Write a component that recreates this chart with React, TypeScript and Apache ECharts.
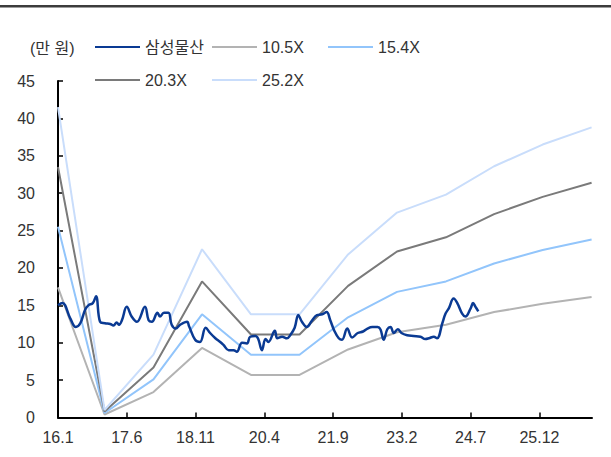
import React, { useEffect, useRef } from "react";
import * as echarts from "echarts";

// x values are months since 2016-01
const tickLabels = ["16.1", "17.6", "18.11", "20.4", "21.9", "23.2", "24.7", "25.12"];
const tickStep = 17;
const xMax = 132;

const bandMonths = [0, 11.5, 23.6, 35.6, 47.7, 59.7, 71.7, 83.8, 95.9, 107.8, 119.8, 131.9];
const per105 = [17.4, 0.4, 3.4, 9.3, 5.7, 5.7, 9.1, 11.4, 12.4, 14.1, 15.2, 16.1];
const per154 = [25.5, 0.6, 5.1, 13.8, 8.4, 8.4, 13.4, 16.8, 18.2, 20.6, 22.4, 23.8];
const per203 = [33.5, 0.8, 6.7, 18.2, 11.1, 11.1, 17.6, 22.2, 24.1, 27.2, 29.5, 31.4];
const per252 = [41.5, 1.0, 8.4, 22.5, 13.8, 13.8, 21.8, 27.4, 29.8, 33.6, 36.5, 38.8];

const samsungCT: [number, number][] = [
  [0, 15.0], [1.1, 15.3], [3.0, 13.3], [4.4, 12.1], [5.5, 12.6], [6.7, 14.4], [7.5, 15.0],
  [8.6, 15.3], [9.4, 16.2], [10.4, 12.8], [11.6, 12.6], [12.9, 12.5], [13.7, 12.3],
  [14.5, 12.7], [15.1, 12.4], [15.8, 13.0], [17.0, 14.8], [18.2, 13.5], [19.5, 12.8],
  [21.5, 14.8], [22.4, 13.0], [23.2, 12.8], [24.6, 14.0], [25.2, 13.5], [26.2, 14.0],
  [27.3, 14.0], [28.1, 12.4], [29.1, 11.9], [30.2, 12.4], [31.9, 12.8], [32.4, 12.2],
  [33.9, 10.4], [35.1, 10.1], [36.5, 12.0], [37.6, 11.3], [38.9, 10.6], [40.1, 10.1],
  [40.9, 9.7], [42.2, 9.0], [43.4, 9.0], [44.2, 8.8], [45.5, 10.0], [46.7, 9.9],
  [47.5, 10.8], [48.8, 10.9], [49.5, 10.5], [50.4, 9.0], [51.3, 10.5], [52.0, 10.1],
  [53.6, 11.6], [54.2, 10.6], [55.4, 10.8], [56.6, 10.6], [57.4, 11.0], [58.5, 12.0],
  [59.4, 13.7], [60.3, 12.8], [61.5, 12.1], [62.7, 12.9], [64.0, 13.7], [65.3, 13.8],
  [66.4, 14.1], [67.3, 13.0], [68.3, 11.6], [69.4, 10.6], [70.2, 10.4], [71.5, 11.9],
  [72.7, 10.7], [74.1, 11.3], [75.4, 11.5], [76.5, 11.9], [77.7, 12.1], [79.0, 12.1],
  [79.7, 11.8], [80.5, 10.4], [81.4, 11.8], [82.2, 12.1], [83.0, 11.3], [84.0, 11.8],
  [84.9, 11.3], [86.3, 11.0], [87.9, 10.9], [89.6, 10.8], [90.8, 10.5], [91.7, 10.6],
  [92.9, 10.8], [93.7, 10.6], [95.0, 12.6], [95.8, 13.9], [96.6, 14.6], [97.8, 15.9],
  [98.7, 15.3], [99.9, 13.9], [100.7, 13.5], [102.0, 14.6], [102.6, 15.3], [103.2, 14.8],
  [103.9, 14.2],
];

const FONT = '"Liberation Sans", Arial, "Noto Sans CJK KR", sans-serif';
const TEXT = "#333333";

const zip = (xs: number[], ys: number[]) => xs.map((x, i) => [x, ys[i]]);

export default function App() {
  const ref = useRef<HTMLDivElement>(null);
  useEffect(() => {
    document.body.style.margin = "0";
    const chart = echarts.init(ref.current!, null, { renderer: "svg" });
    const tickValues = tickLabels.map((_, i) => i * tickStep);
    const band = (name: string, color: string, ys: number[]) => ({
      name,
      type: "line",
      data: zip(bandMonths, ys),
      showSymbol: false,
      color,
      itemStyle: { color },
      lineStyle: { color, width: 2 },
      z: 2,
    });
    const legendBase = {
      icon: "rect",
      itemWidth: 45,
      itemHeight: 2,
      padding: 0,
      selectedMode: false,
      textStyle: { fontFamily: FONT, fontSize: 16, color: TEXT },
    };
    chart.setOption({
      animation: false,
      graphic: [
        { type: "rect", shape: { x: 0, y: 5, width: 611, height: 2.5 }, style: { fill: "#3c3c3c" } },
        {
          type: "text",
          x: 30,
          y: 48,
          style: { text: "(만 원)", font: `16px ${FONT}`, fill: TEXT, verticalAlign: "middle" },
        },
      ],
      legend: [
        { ...legendBase, data: ["삼성물산"], left: 95, top: 39 },
        { ...legendBase, data: ["10.5X"], left: 212, top: 39 },
        { ...legendBase, data: ["15.4X"], left: 328, top: 39 },
        { ...legendBase, data: ["20.3X"], left: 95, top: 72 },
        { ...legendBase, data: ["25.2X"], left: 212, top: 72 },
      ],
      grid: { left: 58, right: 19, top: 81, bottom: 39.5, containLabel: false },
      xAxis: {
        type: "value",
        min: 0,
        max: xMax,
        interval: tickStep,
        splitLine: { show: false },
        axisLine: { lineStyle: { color: "#000", width: 2 } },
        axisTick: { inside: true, length: 5, customValues: tickValues, lineStyle: { color: "#000", width: 1.5 } },
        axisLabel: {
          customValues: tickValues,
          margin: 12,
          fontFamily: FONT,
          fontSize: 16,
          color: TEXT,
          formatter: (v: number) => tickLabels[Math.round(v / tickStep)] ?? "",
        },
      },
      yAxis: {
        type: "value",
        min: 0,
        max: 45,
        interval: 5,
        splitLine: { show: false },
        axisLine: { show: true, lineStyle: { color: "#000", width: 2 } },
        axisTick: { show: true, inside: true, length: 5, lineStyle: { color: "#000", width: 1.5 } },
        axisLabel: { margin: 23, fontFamily: FONT, fontSize: 16, color: TEXT },
      },
      series: [
        {
          name: "삼성물산",
          type: "line",
          data: samsungCT,
          showSymbol: false,
          smooth: 0.4,
          color: "#0A3A93",
          itemStyle: { color: "#0A3A93" },
          lineStyle: { color: "#0A3A93", width: 2.5 },
          z: 5,
        },
        band("10.5X", "#B3B3B3", per105),
        band("15.4X", "#92C5FB", per154),
        band("20.3X", "#7A7A7A", per203),
        band("25.2X", "#C9DDFB", per252),
      ],
    });
    return () => chart.dispose();
  }, []);
  return <div ref={ref} style={{ width: 611, height: 457 }} />;
}
